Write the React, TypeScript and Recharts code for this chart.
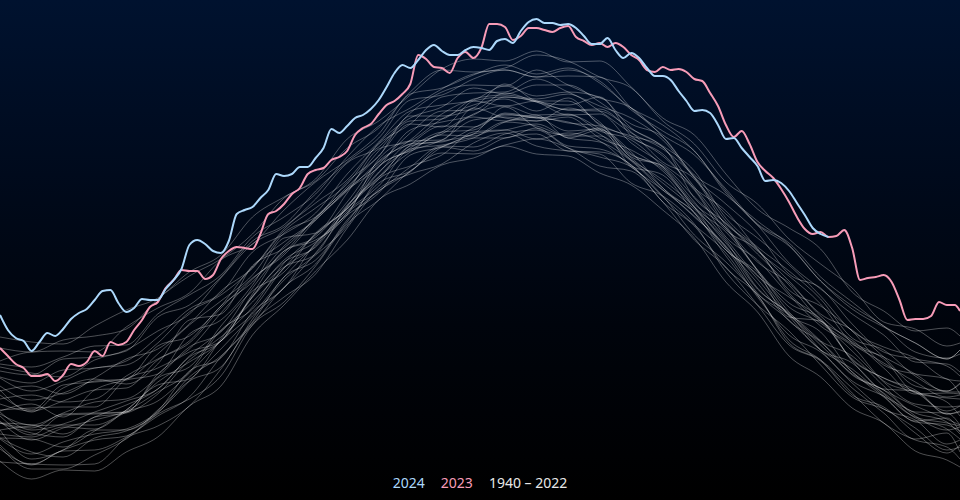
import React from 'react';
import { LineChart, Line, XAxis, YAxis } from 'recharts';

// Day-of-year categories
const grayDays = [1, 13, 25, 37, 49, 61, 73, 85, 97, 109, 121, 133, 145, 157, 169, 181, 193, 205, 217, 229, 241, 253, 265, 277, 289, 301, 313, 325, 337, 349, 361, 366];
const hiDays = Array.from({ length: 122 }, (_, k) => 1 + 3 * k).concat([366]);

// Global daily mean air temperature (°C)
const t2024 = [
  14.05, 13.90, 13.82, 13.79, 13.69, 13.78, 13.87, 13.84, 13.91, 14.01,
  14.07, 14.11, 14.20, 14.29, 14.30, 14.17, 14.08, 14.12, 14.21, 14.20,
  14.20, 14.31, 14.40, 14.51, 14.75, 14.80, 14.76, 14.69, 14.67, 14.79,
  15.06, 15.10, 15.13, 15.22, 15.30, 15.46, 15.44, 15.46, 15.53, 15.53,
  15.62, 15.72, 15.91, 15.87, 15.94, 16.02, 16.05, 16.11, 16.20, 16.33,
  16.47, 16.55, 16.52, 16.60, 16.70, 16.75, 16.69, 16.65, 16.65, 16.70,
  16.73, 16.72, 16.70, 16.79, 16.81, 16.77, 16.89, 16.98, 17.01, 16.97,
  16.97, 16.95, 16.96, 16.92, 16.84, 16.76, 16.76, 16.82, 16.70, 16.62,
  16.67, 16.62, 16.52, 16.44, 16.44, 16.40, 16.29, 16.19, 16.09, 16.10,
  16.07, 15.95, 15.81, 15.82, 15.72, 15.63, 15.54, 15.39, 15.40, 15.37,
  15.29, 15.17, 15.05, 14.92, 14.86, 14.83,
];

const t2023 = [
  13.72, 13.64, 13.56, 13.52, 13.44, 13.44, 13.46, 13.39, 13.45, 13.56,
  13.54, 13.58, 13.69, 13.64, 13.78, 13.75, 13.78, 13.90, 14.00, 14.13,
  14.18, 14.32, 14.40, 14.50, 14.49, 14.49, 14.41, 14.45, 14.61, 14.69,
  14.73, 14.72, 14.71, 14.86, 15.06, 15.09, 15.16, 15.26, 15.32, 15.46,
  15.50, 15.52, 15.60, 15.63, 15.69, 15.85, 15.92, 15.96, 16.06, 16.15,
  16.19, 16.26, 16.36, 16.65, 16.61, 16.53, 16.52, 16.47, 16.62, 16.68,
  16.62, 16.72, 16.96, 16.96, 16.93, 16.80, 16.84, 16.92, 16.92, 16.90,
  16.88, 16.92, 16.94, 16.83, 16.79, 16.75, 16.77, 16.73, 16.77, 16.73,
  16.65, 16.60, 16.50, 16.48, 16.53, 16.50, 16.51, 16.48, 16.41, 16.39,
  16.27, 16.14, 15.95, 15.83, 15.89, 15.76, 15.58, 15.49, 15.42, 15.31,
  15.18, 15.03, 14.91, 14.86, 14.88, 14.83, 14.84, 14.90, 14.72, 14.40,
  14.42, 14.43, 14.45, 14.38, 14.20, 14.00, 14.01, 14.01, 14.04, 14.18,
  14.15, 14.15, 14.09,
];

// A representative sample of the 1940 – 2022 years
const g01 = [12.59, 12.41, 12.50, 12.49, 12.68, 12.83, 13.14, 13.34, 13.85, 14.15, 14.49, 14.80, 15.20, 15.36, 15.55, 15.62, 15.74, 15.66, 15.64, 15.47, 15.35, 15.10, 14.82, 14.38, 14.08, 13.64, 13.43, 13.12, 12.97, 12.69, 12.60, 12.53];
const g02 = [12.58, 12.56, 12.55, 12.56, 12.82, 12.94, 13.14, 13.51, 13.97, 14.23, 14.46, 14.92, 15.31, 15.46, 15.56, 15.77, 15.87, 15.74, 15.69, 15.66, 15.37, 15.24, 14.96, 14.48, 14.15, 13.89, 13.55, 13.23, 13.11, 12.92, 12.70, 12.73];
const g03 = [12.73, 12.51, 12.51, 12.65, 12.81, 13.06, 13.21, 13.44, 13.95, 14.18, 14.54, 14.96, 15.20, 15.49, 15.67, 15.66, 15.75, 15.81, 15.72, 15.54, 15.49, 15.18, 14.80, 14.53, 14.15, 13.75, 13.59, 13.27, 12.97, 12.80, 12.73, 12.61];
const g04 = [12.71, 12.56, 12.70, 12.80, 12.84, 13.10, 13.39, 13.53, 14.01, 14.40, 14.65, 14.94, 15.41, 15.54, 15.65, 15.88, 15.90, 15.81, 15.87, 15.79, 15.53, 15.30, 15.04, 14.72, 14.27, 14.00, 13.70, 13.51, 13.24, 12.98, 12.95, 12.89];
const g05 = [12.82, 12.68, 12.63, 12.82, 12.89, 13.07, 13.43, 13.64, 13.98, 14.43, 14.60, 14.98, 15.37, 15.49, 15.73, 15.82, 15.82, 15.92, 15.74, 15.71, 15.55, 15.23, 14.95, 14.67, 14.23, 13.85, 13.68, 13.37, 13.11, 13.00, 12.76, 12.80];
const g06 = [12.81, 12.66, 12.78, 12.86, 12.91, 13.08, 13.39, 13.71, 14.04, 14.32, 14.67, 15.07, 15.29, 15.53, 15.74, 15.73, 15.86, 15.90, 15.72, 15.63, 15.53, 15.24, 14.85, 14.58, 14.25, 13.80, 13.60, 13.25, 13.13, 12.87, 12.67, 12.75];
const g07 = [12.82, 12.81, 12.73, 12.89, 13.08, 13.19, 13.47, 13.79, 14.06, 14.43, 14.76, 15.09, 15.34, 15.71, 15.75, 15.82, 15.98, 15.94, 15.84, 15.84, 15.60, 15.32, 15.03, 14.74, 14.31, 14.06, 13.70, 13.39, 13.24, 13.07, 12.98, 12.86];
const g08 = [12.97, 12.87, 12.83, 13.03, 13.07, 13.26, 13.60, 13.83, 14.13, 14.57, 14.85, 15.12, 15.43, 15.75, 15.94, 15.93, 16.06, 16.02, 16.05, 15.91, 15.65, 15.53, 15.18, 14.81, 14.44, 14.23, 14.01, 13.61, 13.42, 13.30, 13.06, 13.09];
const g09 = [12.97, 12.95, 12.86, 13.03, 13.15, 13.31, 13.63, 13.79, 14.24, 14.58, 14.73, 15.13, 15.54, 15.69, 15.80, 16.00, 16.03, 15.99, 16.03, 15.82, 15.70, 15.49, 15.13, 14.70, 14.48, 14.08, 13.79, 13.64, 13.34, 13.08, 13.07, 12.95];
const g10 = [13.08, 12.90, 12.96, 13.08, 13.19, 13.31, 13.64, 13.89, 14.18, 14.52, 14.86, 15.11, 15.47, 15.76, 15.78, 15.92, 16.05, 16.03, 15.89, 15.91, 15.62, 15.37, 15.11, 14.79, 14.32, 14.07, 13.79, 13.45, 13.30, 13.04, 12.90, 12.93];
const g11 = [13.06, 12.95, 13.07, 13.18, 13.21, 13.43, 13.73, 13.88, 14.32, 14.69, 14.83, 15.18, 15.59, 15.76, 15.86, 16.06, 16.14, 16.05, 16.06, 15.89, 15.80, 15.53, 15.16, 14.92, 14.50, 14.13, 13.97, 13.69, 13.38, 13.16, 13.13, 13.14];
const g12 = [13.10, 13.12, 13.13, 13.13, 13.41, 13.52, 13.71, 14.07, 14.41, 14.67, 15.03, 15.31, 15.56, 15.87, 16.09, 16.10, 16.27, 16.18, 16.10, 16.09, 15.91, 15.73, 15.33, 14.96, 14.71, 14.30, 14.14, 13.89, 13.55, 13.46, 13.41, 13.26];
const g13 = [13.16, 13.09, 13.19, 13.30, 13.32, 13.60, 13.77, 14.12, 14.42, 14.65, 15.00, 15.29, 15.58, 15.80, 16.06, 16.19, 16.14, 16.19, 16.19, 15.96, 15.82, 15.64, 15.31, 14.90, 14.70, 14.27, 13.99, 13.80, 13.52, 13.26, 13.27, 13.26];
const g14 = [13.21, 13.25, 13.18, 13.21, 13.44, 13.61, 13.79, 14.14, 14.38, 14.74, 15.00, 15.30, 15.53, 15.90, 15.98, 16.05, 16.23, 16.18, 16.05, 16.06, 15.77, 15.56, 15.30, 14.83, 14.60, 14.25, 13.94, 13.74, 13.39, 13.28, 13.18, 13.04];
const g15 = [13.34, 13.20, 13.27, 13.39, 13.41, 13.66, 13.95, 14.19, 14.45, 14.87, 15.03, 15.31, 15.69, 15.99, 16.01, 16.21, 16.25, 16.21, 16.26, 16.09, 15.87, 15.71, 15.43, 14.99, 14.69, 14.44, 14.16, 13.77, 13.63, 13.46, 13.28, 13.28];
const g16 = [13.29, 13.34, 13.26, 13.42, 13.61, 13.71, 13.96, 14.29, 14.52, 14.89, 15.12, 15.36, 15.77, 16.02, 16.13, 16.32, 16.26, 16.35, 16.35, 16.18, 15.96, 15.83, 15.43, 15.16, 14.87, 14.46, 14.32, 13.96, 13.68, 13.61, 13.54, 13.44];
const g17 = [13.42, 13.29, 13.39, 13.52, 13.55, 13.77, 14.08, 14.25, 14.52, 14.91, 15.17, 15.40, 15.76, 15.96, 16.23, 16.27, 16.28, 16.41, 16.28, 16.14, 16.02, 15.80, 15.42, 15.06, 14.82, 14.55, 14.24, 13.89, 13.73, 13.62, 13.41, 13.39];
const g18 = [13.43, 13.37, 13.50, 13.52, 13.59, 13.83, 14.11, 14.27, 14.68, 14.86, 15.07, 15.46, 15.78, 16.09, 16.15, 16.20, 16.34, 16.24, 16.28, 16.23, 15.92, 15.74, 15.49, 15.02, 14.73, 14.49, 14.21, 13.82, 13.70, 13.44, 13.29, 13.36];
const g19 = [13.53, 13.47, 13.43, 13.60, 13.70, 13.89, 14.06, 14.42, 14.76, 14.93, 15.21, 15.57, 15.73, 16.07, 16.28, 16.35, 16.34, 16.50, 16.35, 16.22, 16.12, 15.83, 15.45, 15.25, 14.95, 14.57, 14.31, 14.06, 13.85, 13.58, 13.56, 13.48];
const g20 = [13.49, 13.45, 13.61, 13.63, 13.69, 14.03, 14.15, 14.43, 14.79, 14.95, 15.29, 15.58, 15.82, 16.20, 16.25, 16.41, 16.50, 16.43, 16.44, 16.43, 16.12, 15.85, 15.65, 15.31, 14.96, 14.77, 14.43, 14.18, 13.94, 13.77, 13.61, 13.70];
const g21 = [13.56, 13.53, 13.63, 13.74, 13.75, 14.06, 14.25, 14.45, 14.83, 15.03, 15.26, 15.63, 15.94, 16.12, 16.31, 16.46, 16.50, 16.43, 16.50, 16.39, 16.10, 15.89, 15.69, 15.27, 14.99, 14.75, 14.39, 14.11, 13.93, 13.77, 13.61, 13.70];
const g22 = [13.59, 13.68, 13.69, 13.68, 13.93, 14.12, 14.27, 14.60, 14.76, 15.10, 15.38, 15.60, 15.86, 16.26, 16.32, 16.45, 16.55, 16.46, 16.52, 16.37, 16.12, 15.95, 15.69, 15.29, 14.95, 14.74, 14.39, 14.14, 13.94, 13.68, 13.62, 13.66];
const g23 = [13.72, 13.68, 13.80, 13.84, 13.91, 14.21, 14.44, 14.61, 14.86, 15.22, 15.39, 15.72, 15.92, 16.28, 16.50, 16.48, 16.52, 16.65, 16.59, 16.43, 16.32, 15.99, 15.76, 15.38, 15.16, 14.81, 14.56, 14.32, 13.98, 13.91, 13.74, 13.77];
const g24 = [13.83, 13.78, 13.76, 13.94, 14.10, 14.22, 14.48, 14.65, 15.03, 15.23, 15.41, 15.81, 15.99, 16.25, 16.51, 16.61, 16.59, 16.69, 16.58, 16.59, 16.33, 16.02, 15.85, 15.46, 15.11, 14.92, 14.71, 14.28, 14.09, 13.89, 13.92, 13.84];
const g25 = [12.90, 12.61, 12.70, 12.90, 12.90, 13.09, 13.49, 13.62, 14.08, 14.32, 14.77, 15.05, 15.27, 15.65, 15.73, 15.86, 15.90, 15.96, 15.82, 15.78, 15.59, 15.30, 15.07, 14.64, 14.26, 14.05, 13.75, 13.46, 13.27, 13.02, 12.91, 12.81];
const g26 = [12.90, 12.94, 12.95, 12.95, 13.10, 13.38, 13.58, 13.79, 14.23, 14.60, 14.78, 15.07, 15.53, 15.70, 15.88, 16.03, 15.99, 16.03, 15.97, 15.94, 15.66, 15.51, 15.13, 14.88, 14.49, 14.03, 13.99, 13.59, 13.31, 13.29, 13.06, 13.08];
const g27 = [12.99, 12.80, 12.92, 13.00, 13.09, 13.28, 13.48, 13.90, 14.11, 14.52, 14.74, 15.15, 15.43, 15.68, 15.85, 15.84, 15.98, 16.05, 15.82, 15.90, 15.68, 15.32, 15.08, 14.73, 14.37, 13.99, 13.78, 13.48, 13.23, 12.99, 13.02, 12.88];
const g28 = [12.86, 12.83, 12.93, 12.91, 13.10, 13.35, 13.41, 13.81, 14.23, 14.53, 14.66, 15.14, 15.41, 15.74, 15.79, 15.86, 16.13, 15.92, 15.85, 15.92, 15.54, 15.45, 15.07, 14.70, 14.45, 14.04, 13.70, 13.57, 13.26, 13.03, 12.97, 12.94];
const g29 = [13.09, 13.16, 13.03, 13.30, 13.40, 13.46, 13.86, 14.00, 14.35, 14.82, 14.87, 15.27, 15.71, 15.79, 16.01, 16.15, 16.21, 16.09, 16.22, 15.95, 15.84, 15.73, 15.22, 14.97, 14.66, 14.35, 13.99, 13.76, 13.57, 13.38, 13.23, 13.25];
const g30 = [13.04, 12.85, 13.05, 13.06, 13.08, 13.42, 13.53, 13.94, 14.29, 14.48, 14.87, 15.11, 15.48, 15.72, 15.88, 15.90, 16.07, 16.02, 15.98, 15.86, 15.60, 15.40, 15.13, 14.77, 14.41, 14.05, 13.88, 13.48, 13.30, 13.14, 13.01, 12.95];
const g31 = [13.30, 13.08, 13.32, 13.41, 13.36, 13.56, 14.00, 14.06, 14.54, 14.72, 15.02, 15.33, 15.64, 15.96, 15.93, 16.19, 16.23, 16.19, 16.10, 16.11, 15.88, 15.58, 15.41, 14.94, 14.58, 14.37, 14.04, 13.78, 13.61, 13.27, 13.22, 13.21];
const g32 = [12.97, 12.92, 13.06, 13.07, 13.08, 13.46, 13.68, 13.79, 14.26, 14.69, 14.80, 15.05, 15.61, 15.79, 15.80, 16.12, 16.02, 15.99, 16.12, 15.98, 15.63, 15.54, 15.23, 14.92, 14.50, 14.17, 14.01, 13.60, 13.42, 13.28, 13.09, 13.14];
const g33 = [12.75, 12.55, 12.69, 12.70, 12.83, 13.04, 13.23, 13.63, 13.95, 14.33, 14.56, 15.00, 15.29, 15.48, 15.73, 15.69, 15.82, 15.86, 15.69, 15.68, 15.55, 15.18, 14.94, 14.52, 14.25, 13.77, 13.60, 13.32, 13.07, 12.81, 12.87, 12.68];
const g34 = [13.25, 13.10, 13.35, 13.38, 13.41, 13.74, 13.84, 14.14, 14.54, 14.78, 15.01, 15.38, 15.64, 16.04, 16.04, 16.12, 16.36, 16.19, 16.15, 16.23, 15.84, 15.66, 15.32, 15.09, 14.71, 14.39, 14.06, 13.90, 13.63, 13.34, 13.29, 13.37];

const historical = [
  g01, g02, g03, g04, g05, g06, g07, g08, g09, g10, g11, g12, g13, g14, g15, g16, g17,
  g18, g19, g20, g21, g22, g23, g24, g25, g26, g27, g28, g29, g30, g31, g32, g33, g34,
];

const BLUE = '#acd8fb';
const PINK = '#f79cb8';
const GRAY = '#ffffff';

const legendItems = [
  { label: '2024', color: BLUE },
  { label: '2023', color: PINK },
  { label: '1940 – 2022', color: '#e8e8e8' },
];

const toSeries = (days: number[], vals: number[]) => vals.map((t, i) => ({ day: days[i], t }));

const s2024 = toSeries(hiDays, t2024);
const s2023 = toSeries(hiDays, t2023);
const grayData = historical.map((v) => toSeries(grayDays, v));

export default function App() {
  return (
    <div
      style={{
        position: 'absolute',
        left: 0,
        top: 0,
        width: 960,
        height: 500,
        overflow: 'hidden',
        background: 'linear-gradient(to bottom, #00122f 0%, #000a1c 35%, #00040c 65%, #000000 100%)',
        fontFamily: '"Noto Sans", "Open Sans", sans-serif',
      }}
    >
      <LineChart width={960} height={500} margin={{ top: 0, right: 0, bottom: 0, left: 0 }}>
        <XAxis type="number" dataKey="day" domain={[1, 366]} hide allowDataOverflow />
        <YAxis type="number" domain={[12.2, 17.2]} hide allowDataOverflow />
        {grayData.map((d, i) => (
          <Line
            key={'g' + i}
            data={d}
            dataKey="t"
            type="monotone"
            stroke={GRAY}
            strokeOpacity={0.3}
            strokeWidth={1}
            dot={false}
            activeDot={false}
            isAnimationActive={false}
          />
        ))}
        <Line data={s2023} dataKey="t" type="monotone" stroke={PINK} strokeWidth={2} dot={false} activeDot={false} isAnimationActive={false} />
        <Line data={s2024} dataKey="t" type="monotone" stroke={BLUE} strokeWidth={2} dot={false} activeDot={false} isAnimationActive={false} />
      </LineChart>
      <div
        style={{
          position: 'absolute',
          left: 0,
          top: 473,
          width: 960,
          textAlign: 'center',
          fontSize: 14,
          lineHeight: '20px',
        }}
      >
        {legendItems.map((it) => (
          <span key={it.label} style={{ color: it.color, margin: '0 8px' }}>
            {it.label}
          </span>
        ))}
      </div>
    </div>
  );
}
